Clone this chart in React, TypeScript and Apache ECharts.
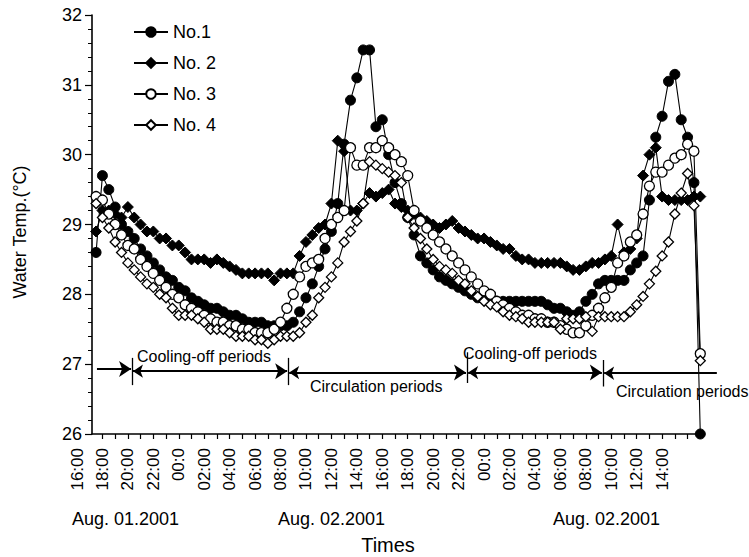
import React, { useEffect, useRef } from 'react';
import * as echarts from 'echarts';

// hours after 16:00, Aug. 01 2001 (half-hourly readings)
const times = [
  1.5, 2, 2.5, 3, 3.5, 4, 4.5, 5, 5.5, 6, 6.5, 7, 7.5, 8, 8.5, 9, 9.5, 10, 10.5, 11,
  11.5, 12, 12.5, 13, 13.5, 14, 14.5, 15, 15.5, 16, 16.5, 17, 17.5, 18, 18.5, 19, 19.5, 20,
  20.5, 21, 21.5, 22, 22.5, 23, 23.5, 24, 24.5, 25, 25.5, 26, 26.5, 27, 27.5, 28, 28.5, 29,
  29.5, 30, 30.5, 31, 31.5, 32, 32.5, 33, 33.5, 34, 34.5, 35, 35.5, 36, 36.5, 37, 37.5, 38,
  38.5, 39, 39.5, 40, 40.5, 41, 41.5, 42, 42.5, 43, 43.5, 44, 44.5, 45, 45.5, 46, 46.5, 47,
  47.5, 48, 48.5, 49,
];

const no1 = [
  28.6, 29.7, 29.5, 29.25, 29.0, 28.9, 28.8, 28.65, 28.55, 28.45,
  28.35, 28.25, 28.2, 28.1, 28.05, 27.95, 27.9, 27.85, 27.8, 27.8,
  27.75, 27.7, 27.7, 27.65, 27.6, 27.6, 27.6, 27.55, 27.55, 27.55,
  27.55, 27.6, 27.75, 27.95, 28.15, 28.4, 28.65, 28.9, 29.3, 30.15,
  30.78, 31.1, 31.5, 31.5, 30.4, 30.5, 30.0, 29.6, 29.3, 29.1,
  28.85, 28.55, 28.45, 28.35, 28.25, 28.2, 28.15, 28.1, 28.05, 28.0,
  27.95, 27.95, 27.95, 27.9, 27.9, 27.9, 27.9, 27.9, 27.9, 27.9,
  27.9, 27.85, 27.8, 27.8, 27.75, 27.7, 27.75, 27.9, 28.0, 28.15,
  28.2, 28.2, 28.2, 28.2, 28.35, 28.45, 28.55, 29.35, 30.25, 30.55,
  31.05, 31.15, 30.5, 30.25, 29.6, 26.0,
];

const no2 = [
  28.9, 29.2, 29.2, 29.15, 29.1, 29.25, 29.1, 29.0, 28.9, 28.9,
  28.8, 28.8, 28.7, 28.7, 28.6, 28.5, 28.5, 28.5, 28.45, 28.5,
  28.45, 28.4, 28.35, 28.3, 28.3, 28.3, 28.3, 28.3, 28.2, 28.3,
  28.3, 28.3, 28.55, 28.75, 28.85, 28.95, 29.0, 29.3, 30.2, 30.05,
  29.2, 29.2, 29.3, 29.45, 29.4, 29.45, 29.5, 29.3, 29.25, 29.2,
  29.15, 29.1, 29.05, 29.0, 28.95, 29.0, 29.05, 28.95, 28.9, 28.85,
  28.8, 28.8, 28.75, 28.7, 28.65, 28.65, 28.55, 28.5, 28.5, 28.45,
  28.45, 28.45, 28.45, 28.45, 28.4, 28.35, 28.35, 28.4, 28.45, 28.45,
  28.5, 28.55, 29.0, 28.6, 28.65, 28.8, 29.7, 30.0, 30.1, 29.4,
  29.35, 29.35, 29.35, 29.35, 29.4, 29.4,
];

const no3 = [
  29.4, 29.35, 29.15, 29.0, 28.85, 28.7, 28.65, 28.5, 28.4, 28.3,
  28.2, 28.1, 28.0, 27.95, 27.85, 27.8, 27.75, 27.7, 27.65, 27.6,
  27.6, 27.55, 27.55, 27.5, 27.5, 27.45, 27.45, 27.45, 27.5, 27.6,
  27.8, 28.0, 28.25, 28.4, 28.45, 28.5, 28.8, 29.0, 29.1, 29.2,
  30.1, 29.85, 29.85, 30.1, 30.1, 30.2, 30.1, 30.0, 29.9, 29.7,
  29.2, 29.05, 28.95, 28.85, 28.75, 28.65, 28.55, 28.45, 28.35, 28.25,
  28.15, 28.05, 28.0, 27.9, 27.85, 27.8, 27.75, 27.7, 27.7, 27.65,
  27.65, 27.6, 27.6, 27.55, 27.5, 27.45, 27.45, 27.55, 27.7, 27.8,
  27.95, 28.1, 28.45, 28.55, 28.75, 28.85, 29.15, 29.55, 29.75, 29.75,
  29.85, 29.95, 30.0, 30.15, 30.05, 27.15,
];

const no4 = [
  29.3, 29.1, 28.95, 28.75, 28.6, 28.45, 28.35, 28.25, 28.15, 28.1,
  28.0, 27.95, 27.8, 27.7, 27.7, 27.7, 27.65, 27.6, 27.5, 27.5,
  27.5, 27.45, 27.4, 27.4, 27.4, 27.35, 27.35, 27.3, 27.35, 27.4,
  27.4, 27.4, 27.45, 27.6, 27.7, 27.95, 28.1, 28.25, 28.45, 28.75,
  28.9, 29.05, 29.3, 29.9, 29.85, 29.8, 29.75, 29.7, 29.6, 29.1,
  28.95, 28.8, 28.65, 28.5, 28.4, 28.35, 28.3, 28.2, 28.15, 28.05,
  27.97, 27.9, 27.85, 27.82, 27.75, 27.7, 27.68, 27.65, 27.6, 27.6,
  27.6, 27.6, 27.6, 27.5, 27.65, 27.65, 27.65, 27.68, 27.47, 27.68,
  27.68, 27.68, 27.68, 27.68, 27.75, 27.85, 27.97, 28.15, 28.33, 28.55,
  28.75, 29.15, 29.45, 29.73, 29.27, 27.05,
];

const seriesNames = ['No.1', 'No. 2', 'No. 3', 'No. 4'];

const xTickLabels = [
  '16:00', '18:00', '20:00', '22:00', '00:0', '02:00', '04:00', '06:00', '08:00', '10:00',
  '12:00', '14:00', '16:00', '18:00', '20:00', '22:00', '00:0', '02:00', '04:00', '06:00',
  '08:00', '10:00', '12:00', '14:00',
];
const tickHours = [
  2, 3, 4, 5, 6, 7, 8, 9, 10, 11, 12, 13, 14, 15, 16, 17, 18, 19, 20, 21, 22, 23, 24, 25,
  26, 27, 28, 29, 30, 31, 32, 33, 34, 35, 36, 37, 38, 39, 40, 41, 42, 43, 44, 45, 46, 47, 48, 49,
];
const dateLabels = ['Aug. 01.2001', 'Aug. 02.2001', 'Aug. 02.2001'];

// period annotation (hours / °C)
const periodBounds = [4.32, 16.59, 30.66, 41.35];
const boundLow = [26.7, 26.7, 26.73, 26.68];
const boundHigh = [27.09, 27.09, 27.17, 27.06];
const leadArrow = [1.57, 4.25];
const spanArrows = [
  [4.4, 16.52],
  [16.68, 30.58],
  [30.75, 41.26],
];
const tailArrow = [41.44, 50.3];
const arrowYs = [26.93, 26.9, 26.88, 26.88, 26.87];
const periodTexts = ['Cooling-off periods', 'Circulation periods', 'Cooling-off periods', 'Circulation periods'];

const FONT = '"Liberation Sans", Arial, sans-serif';

export default function App() {
  const ref = useRef<HTMLDivElement>(null);
  useEffect(() => {
    const chart = echarts.init(ref.current!, undefined, { renderer: 'svg' });
    const pairs = (vals: number[]) => vals.map((v, i) => [times[i], v]);
    const mk = (name: string, vals: number[], symbol: string, size: number, filled: boolean) => ({
      name,
      type: 'line',
      xAxisIndex: 0,
      yAxisIndex: 0,
      data: pairs(vals),
      symbol,
      symbolSize: size,
      showAllSymbol: true,
      clip: false,
      lineStyle: { color: '#000', width: 1.1 },
      itemStyle: filled
        ? { color: '#000', borderColor: '#000', borderWidth: 1 }
        : { color: '#fff', borderColor: '#000', borderWidth: 1.3 },
      emphasis: { disabled: true },
      silent: true,
    });
    const arrowLine = { color: '#000', width: 1.8, opacity: 1, curveness: 0 };
    const arrowSeries = (symbol: string[], data: any[]) => ({
      type: 'lines',
      coordinateSystem: 'cartesian2d',
      xAxisIndex: 0,
      yAxisIndex: 0,
      clip: false,
      silent: true,
      symbol,
      symbolSize: [10, 12],
      lineStyle: arrowLine,
      data,
    });
    const option: any = {
      animation: false,
      textStyle: { fontFamily: FONT, color: '#000' },
      grid: [
        { left: 92, top: 15, width: 608.3, height: 419, outerBoundsMode: 'none' },
        { left: 77, top: 15, width: 623.3, height: 419, outerBoundsMode: 'none' },
      ],
      legend: {
        orient: 'vertical',
        left: 133,
        top: 22,
        padding: 0,
        itemWidth: 34,
        itemHeight: 12,
        itemGap: 11,
        data: seriesNames,
        textStyle: { fontSize: 18, fontFamily: FONT, color: '#000', lineHeight: 20 },
        selectedMode: false,
      },
      xAxis: [
        {
          type: 'value',
          gridIndex: 0,
          min: 1.18,
          max: 49,
          axisLine: { show: true, lineStyle: { color: '#000', width: 1.6 } },
          axisTick: { show: true, customValues: tickHours, length: 5, lineStyle: { color: '#000', width: 1.2 } },
          axisLabel: { show: false },
          splitLine: { show: false },
        },
        {
          type: 'value',
          gridIndex: 1,
          min: 0,
          max: 49,
          interval: 2,
          axisLine: { show: false },
          axisTick: { show: false },
          splitLine: { show: false },
          axisLabel: {
            show: true,
            rotate: 90,
            margin: 14,
            fontSize: 17,
            fontFamily: FONT,
            color: '#000',
            formatter: (v: number) => xTickLabels[v / 2] ?? '',
          },
        },
      ],
      yAxis: [
        {
          type: 'value',
          gridIndex: 0,
          min: 26,
          max: 32,
          interval: 1,
          axisLine: { show: true, lineStyle: { color: '#000', width: 1.6 } },
          axisTick: { show: true, length: 7, lineStyle: { color: '#000', width: 1.2 } },
          minorTick: { show: true, splitNumber: 5, length: 4, lineStyle: { color: '#000', width: 1 } },
          axisLabel: { fontSize: 18, margin: 10, color: '#000', fontFamily: FONT },
          splitLine: { show: false },
          minorSplitLine: { show: false },
        },
        { type: 'value', gridIndex: 1, min: 26, max: 32, show: false },
      ],
      series: [
        mk(seriesNames[0], no1, 'circle', 10, true),
        mk(seriesNames[1], no2, 'diamond', 11, true),
        mk(seriesNames[2], no3, 'circle', 10, false),
        mk(seriesNames[3], no4, 'diamond', 10, false),
        arrowSeries(['none', 'arrow'], [{ coords: [[leadArrow[0], arrowYs[0]], [leadArrow[1], arrowYs[0]]] }]),
        arrowSeries(
          ['arrow', 'arrow'],
          spanArrows.map((s, i) => ({ coords: [[s[0], arrowYs[i + 1]], [s[1], arrowYs[i + 1]]] })),
        ),
        arrowSeries(['arrow', 'none'], [{ coords: [[tailArrow[0], arrowYs[4]], [tailArrow[1], arrowYs[4]]] }]),
        {
          type: 'lines',
          coordinateSystem: 'cartesian2d',
          xAxisIndex: 0,
          yAxisIndex: 0,
          clip: false,
          silent: true,
          symbol: ['none', 'none'],
          lineStyle: { color: '#000', width: 1.3, opacity: 1 },
          data: periodBounds.map((b, i) => ({ coords: [[b, boundLow[i]], [b, boundHigh[i]]] })),
        },
      ],
      graphic: [
        { type: 'text', x: 137, y: 356, style: { text: periodTexts[0], fontSize: 16, fontFamily: FONT, fill: '#000', align: 'left', verticalAlign: 'middle' } },
        { type: 'text', x: 310, y: 386, style: { text: periodTexts[1], fontSize: 16, fontFamily: FONT, fill: '#000', align: 'left', verticalAlign: 'middle' } },
        { type: 'text', x: 463, y: 353.5, style: { text: periodTexts[2], fontSize: 16, fontFamily: FONT, fill: '#000', align: 'left', verticalAlign: 'middle' } },
        { type: 'text', x: 616, y: 391, style: { text: periodTexts[3], fontSize: 16, fontFamily: FONT, fill: '#000', align: 'left', verticalAlign: 'middle' } },
        { type: 'text', x: 72, y: 519, style: { text: dateLabels[0], fontSize: 18, fontFamily: FONT, fill: '#000', align: 'left', verticalAlign: 'middle' } },
        { type: 'text', x: 278, y: 519, style: { text: dateLabels[1], fontSize: 18, fontFamily: FONT, fill: '#000', align: 'left', verticalAlign: 'middle' } },
        { type: 'text', x: 553, y: 519, style: { text: dateLabels[2], fontSize: 18, fontFamily: FONT, fill: '#000', align: 'left', verticalAlign: 'middle' } },
        { type: 'text', x: 388, y: 545, style: { text: 'Times', fontSize: 20, fontFamily: FONT, fill: '#000', align: 'center', verticalAlign: 'middle' } },
        {
          type: 'text',
          x: 20,
          y: 232,
          rotation: Math.PI / 2,
          style: { text: 'Water Temp.(°C)', fontSize: 18, fontFamily: FONT, fill: '#000', align: 'center', verticalAlign: 'middle' },
        },
      ],
    };
    chart.setOption(option);
    return () => chart.dispose();
  }, []);
  return <div ref={ref} style={{ position: 'fixed', left: 0, top: 0, width: 749, height: 557, background: '#fff' }} />;
}
